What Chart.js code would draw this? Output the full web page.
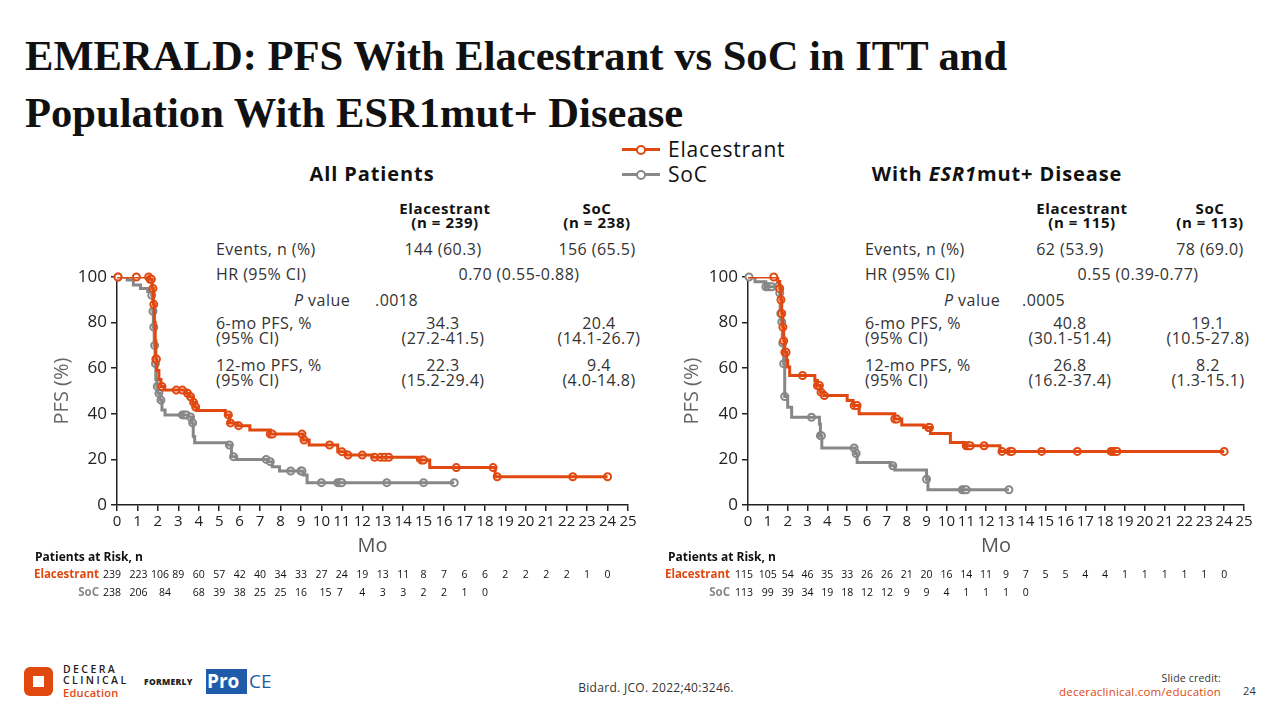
<!DOCTYPE html>
<html>
<head>
<meta charset="utf-8">
<script src="https://cdn.jsdelivr.net/npm/chart.js@4.4.1/dist/chart.umd.min.js"></script>
<style>
  body { margin: 0; width: 1280px; height: 720px; background: #fff; position: relative; overflow: hidden;
         font-family: "Open Sans", sans-serif; color: #333; }
  .t { position: absolute; white-space: nowrap; font-size: 16px; line-height: 18px; letter-spacing: 0.45px; }
  .c { transform: translateX(-50%); text-align: center; }
  .h { font-weight: 700; color: #111; font-size: 15px; line-height: 14px; text-align: center; letter-spacing: 0.6px; }
  .title { position: absolute; left: 25px; top: 27px; font-family: "Liberation Serif", serif; font-weight: 700;
           font-size: 42.6px; line-height: 57px; color: #111; }
  .sub { position: absolute; font-weight: 700; font-size: 20px; color: #111; transform: translateX(-50%);
         white-space: nowrap; letter-spacing: 0.9px; }
  .box { position: absolute; }
</style>
</head>
<body>
<div class="title">EMERALD: PFS With Elacestrant vs SoC in ITT and<br>Population With ESR1mut+ Disease</div>

<!-- legend -->
<div class="box" style="left:622px;top:148px;width:38px;height:3px;background:#E0480F"></div>
<div class="box" style="left:636px;top:145px;width:6px;height:6px;border:2px solid #E0480F;border-radius:50%;background:#fff"></div>
<div class="t" style="left:668px;top:136px;font-size:21px;line-height:26px;letter-spacing:0.8px;color:#111">Elacestrant</div>
<div class="box" style="left:622px;top:173px;width:38px;height:3px;background:#888"></div>
<div class="box" style="left:636px;top:170px;width:6px;height:6px;border:2px solid #888;border-radius:50%;background:#fff"></div>
<div class="t" style="left:668px;top:161px;font-size:21px;line-height:26px;letter-spacing:0.8px;color:#111">SoC</div>

<div class="sub" style="left:372px;top:160px">All Patients</div>
<div class="sub" style="left:997px;top:160px">With <i>ESR1</i>mut+ Disease</div>

<!-- left table -->
<div class="t h c" style="left:445px;top:201px">Elacestrant<br>(n = 239)</div>
<div class="t h c" style="left:597px;top:201px">SoC<br>(n = 238)</div>
<div class="t" style="left:216px;top:240px">Events, n (%)</div>
<div class="t c" style="left:443px;top:240px">144 (60.3)</div>
<div class="t c" style="left:597px;top:240px">156 (65.5)</div>
<div class="t" style="left:216px;top:265px">HR (95% CI)</div>
<div class="t c" style="left:519px;top:265px">0.70 (0.55-0.88)</div>
<div class="t" style="left:294px;top:291px"><i>P</i> value</div>
<div class="t" style="left:375px;top:291px">.0018</div>
<div class="t" style="left:216px;top:316px;line-height:15px">6-mo PFS, %<br>(95% CI)</div>
<div class="t c" style="left:443px;top:316px;line-height:15px">34.3<br>(27.2-41.5)</div>
<div class="t c" style="left:599px;top:316px;line-height:15px">20.4<br>(14.1-26.7)</div>
<div class="t" style="left:216px;top:358px;line-height:15px">12-mo PFS, %<br>(95% CI)</div>
<div class="t c" style="left:443px;top:358px;line-height:15px">22.3<br>(15.2-29.4)</div>
<div class="t c" style="left:599px;top:358px;line-height:15px">9.4<br>(4.0-14.8)</div>

<!-- right table -->
<div class="t h c" style="left:1082px;top:201px">Elacestrant<br>(n = 115)</div>
<div class="t h c" style="left:1210px;top:201px">SoC<br>(n = 113)</div>
<div class="t" style="left:865px;top:240px">Events, n (%)</div>
<div class="t c" style="left:1070px;top:240px">62 (53.9)</div>
<div class="t c" style="left:1210px;top:240px">78 (69.0)</div>
<div class="t" style="left:865px;top:265px">HR (95% CI)</div>
<div class="t c" style="left:1138px;top:265px">0.55 (0.39-0.77)</div>
<div class="t" style="left:944px;top:291px"><i>P</i> value</div>
<div class="t" style="left:1022px;top:291px">.0005</div>
<div class="t" style="left:865px;top:316px;line-height:15px">6-mo PFS, %<br>(95% CI)</div>
<div class="t c" style="left:1070px;top:316px;line-height:15px">40.8<br>(30.1-51.4)</div>
<div class="t c" style="left:1208px;top:316px;line-height:15px">19.1<br>(10.5-27.8)</div>
<div class="t" style="left:865px;top:358px;line-height:15px">12-mo PFS, %<br>(95% CI)</div>
<div class="t c" style="left:1070px;top:358px;line-height:15px">26.8<br>(16.2-37.4)</div>
<div class="t c" style="left:1208px;top:358px;line-height:15px">8.2<br>(1.3-15.1)</div>

<div class="box" style="left:20px;top:262px;width:620px;height:340px"><canvas id="left"></canvas></div>
<div class="box" style="left:650px;top:262px;width:610px;height:340px"><canvas id="right"></canvas></div>

<!-- footer -->
<div class="box" style="left:24px;top:667px;width:29px;height:29px;background:#E0480F;border-radius:6px"></div>
<div class="box" style="left:33px;top:676px;width:11px;height:11px;background:#fff"></div>
<div class="t" style="left:63px;top:664px;font-size:10.5px;line-height:11px;letter-spacing:2.4px;font-weight:600;color:#222">DECERA<br>CLINICAL</div>
<div class="t" style="left:63px;top:686px;font-size:11px;line-height:13px;letter-spacing:0.3px;font-weight:600;color:#E0480F">Education</div>
<div class="t" style="left:144px;top:677px;font-size:8.5px;line-height:10px;letter-spacing:0.3px;font-weight:800;color:#222">FORMERLY</div>
<div class="box" style="left:206px;top:669px;width:41px;height:25px;background:#1F5BA8"></div>
<div class="t" style="left:207px;top:669px;font-size:19px;line-height:25px;letter-spacing:0;font-weight:700;color:#fff">Pro</div>
<div class="t" style="left:249px;top:669px;font-size:19px;line-height:25px;letter-spacing:0;font-weight:500;color:#1F5BA8">CE</div>
<div class="t c" style="left:656px;top:681px;font-size:12px;line-height:14px;letter-spacing:0.3px">Bidard. JCO. 2022;40:3246.</div>
<div class="t" style="left:1221px;top:672px;font-size:10.5px;line-height:13px;letter-spacing:0.2px;transform:translateX(-100%);color:#333">Slide credit:</div>
<div class="t" style="left:1221px;top:685px;font-size:11.5px;line-height:14px;letter-spacing:0.2px;transform:translateX(-100%);color:#E0480F">deceraclinical.com/education</div>
<div class="t" style="left:1243px;top:684px;font-size:11px;line-height:14px;letter-spacing:0.2px;color:#333">24</div>

<script>
const ORANGE = '#E0480F';
const GRAY = '#878787';

// Kaplan-Meier steps [month, PFS %]
const elacAllSteps = [[0,100],[1.6,99],[1.72,95],[1.78,88],[1.83,80],[1.87,72],[1.9,64],[1.95,59],[2.05,55],[2.15,52],
  [2.3,50.4],[3.4,49],[3.55,47.5],[3.7,45],[3.8,43],[3.9,41.5],[5.3,39.5],[5.5,36],[5.9,34.8],[6.5,32.9],[7.5,31.1],
  [9.1,28.5],[9.4,26.3],[10.8,23.4],[11.2,21.9],[12.5,20.9],[14.7,19.7],[15.3,16.4],[18.5,12.4],[24,12.4]];
const socAllSteps = [[0,100],[0.5,98.7],[0.8,96.5],[1.15,95],[1.5,93.6],[1.7,92],[1.75,85],[1.78,78],[1.82,70],[1.86,62],
  [1.9,55],[1.95,52],[2.0,49],[2.1,46],[2.2,41.7],[2.35,39.5],[3.5,38.6],[3.65,36],[3.73,30],[3.8,27.3],[5.38,26.3],
  [5.6,21.2],[5.85,20],[7.4,19],[7.6,16.8],[7.95,14.9],[9.1,13.2],[9.3,9.8],[16.5,9.8]];
const elacMutSteps = [[0,100],[1.5,98],[1.6,95],[1.65,90],[1.7,84],[1.75,78],[1.8,72],[1.85,67],[1.95,63.4],[2.0,60.5],
  [2.1,56.8],[3.37,54.6],[3.5,52.4],[3.65,49.5],[3.82,48],[5.0,45.8],[5.3,43.6],[5.6,40],[7.4,37.7],[7.75,35.1],
  [8.85,34],[9.2,31.4],[10.2,27.4],[10.9,26],[12.7,23.5],[24,23.5]];
const socMutSteps = [[0,100],[0.35,97.9],[0.9,95.7],[1.6,93],[1.62,84],[1.68,80.3],[1.73,71],[1.8,62],[1.85,47.6],
  [2.0,42.9],[2.2,38.5],[3.6,35.5],[3.65,30.4],[3.72,25],[5.4,22.6],[5.5,18.6],[7.2,17.2],[7.4,15.3],[9.0,11.3],
  [9.07,6.7],[13.15,6.7]];

// censoring times (months)
const elacAllCens = [0.05,0.95,1.55,1.62,1.68,1.76,1.8,1.9,1.93,2.2,2.9,3.2,3.45,3.6,3.75,3.85,5.45,5.55,5.95,7.5,7.6,
  9.05,9.15,10.4,11.0,11.3,12.0,12.6,12.9,13.1,13.3,14.9,15.0,16.6,18.4,18.6,22.3,24];
const socAllCens = [0.05,1.7,1.76,1.8,1.84,1.88,1.97,2.05,2.15,3.2,3.3,3.4,3.6,3.7,5.5,5.7,7.3,7.5,8.5,9.0,9.05,
  10.0,10.8,10.9,11.0,13.2,15.0,16.5];
const elacMutCens = [1.3,1.6,1.66,1.7,1.76,1.8,1.86,1.92,2.75,3.5,3.6,3.68,3.85,5.35,5.5,7.4,7.5,9.1,9.15,11.0,11.1,
  11.2,11.9,12.8,13.2,13.3,14.8,16.6,18.3,18.4,18.5,18.6,24];
const socMutCens = [0.05,0.9,1.0,1.1,1.2,1.5,1.6,1.65,1.7,1.75,1.8,1.85,3.2,3.65,3.7,5.35,5.45,7.3,9.0,10.8,10.9,11.0,13.15];

// patients at risk
const elacAllRisk = [239,223,106,89,60,57,42,40,34,33,27,24,19,13,11,8,7,6,6,2,2,2,2,1,0];
const elacAllRiskMo = [-0.25,1.05,2.1,3,4,5,6,7,8,9,10,11,12,13,14,15,16,17,18,19,20,21,22,23,24];
const socAllRisk = [238,206,84,68,39,38,25,25,16,15,7,4,3,3,2,2,1,0];
const socAllRiskMo = [-0.25,1.05,2.35,4,5,6,7,8,9,10.2,10.9,12,13,14,15,16,17,18];
const elacMutRisk = [115,105,54,46,35,33,26,26,21,20,16,14,11,9,7,5,5,4,4,1,1,1,1,1,0];
const elacMutRiskMo = [-0.2,1,2,3,4,5,6,7,8,9,10,11,12,13,14,15,16,17,18,19,20,21,22,23,24];
const socMutRisk = [113,99,39,34,19,18,12,12,9,9,4,1,1,1,0];
const socMutRiskMo = [-0.2,1,2,3,4,5,6,7,8,9,10,11,12,13,14];

const FONT = '"Open Sans", sans-serif';

function toPts(steps) { return steps.map(([x, y]) => ({ x, y })); }
function censPts(times, steps) {
  return times.map(t => {
    let y = steps[0][1];
    for (const [x, v] of steps) if (x <= t) y = v;
    return { x: t, y };
  });
}

function atRiskPlugin(rows, labelX, headerX) {
  return {
    id: 'atRisk',
    afterDraw(chart) {
      const ctx = chart.ctx;
      const xs = chart.scales.x;
      ctx.save();
      ctx.textBaseline = 'middle';
      ctx.font = `bold 12px ${FONT}`;
      ctx.fillStyle = '#111';
      ctx.textAlign = 'left';
      ctx.fillText('Patients at Risk, n', headerX, 296);
      rows.forEach(r => {
        ctx.font = `bold 11.5px ${FONT}`;
        ctx.fillStyle = r.color;
        ctx.textAlign = 'right';
        ctx.fillText(r.label, labelX, r.y);
        ctx.font = `10.5px ${FONT}`;
        ctx.fillStyle = '#111';
        ctx.textAlign = 'center';
        r.values.forEach((v, i) => ctx.fillText(String(v), xs.getPixelForValue(r.months[i]), r.y));
      });
      ctx.restore();
    }
  };
}

function kmChart(id, elacSteps, socSteps, elacCens, socCens, risk, yWidth, padRight, labelX, headerX) {
  const axisCommon = {
    grid: { drawOnChartArea: false, drawTicks: true, tickLength: 6, color: '#222', lineWidth: 1.5 },
    border: { color: '#222', width: 1.5 }
  };
  new Chart(document.getElementById(id), {
    type: 'scatter',
    data: {
      datasets: [
        { type: 'line', data: toPts(elacSteps), stepped: 'before', borderColor: ORANGE, borderWidth: 3,
          pointRadius: 0, fill: false },
        { data: censPts(elacCens, elacSteps), pointRadius: 3.5, pointBackgroundColor: '#fff',
          pointBorderColor: ORANGE, pointBorderWidth: 2, clip: false },
        { type: 'line', data: toPts(socSteps), stepped: 'before', borderColor: GRAY, borderWidth: 3,
          pointRadius: 0, fill: false },
        { data: censPts(socCens, socSteps), pointRadius: 3.5, pointBackgroundColor: '#fff',
          pointBorderColor: GRAY, pointBorderWidth: 2, clip: false }
      ]
    },
    options: {
      responsive: true,
      maintainAspectRatio: false,
      animation: false,
      layout: { padding: { left: 30, right: padRight, top: 15, bottom: 40 } },
      plugins: { legend: { display: false }, tooltip: { enabled: false } },
      scales: {
        x: {
          type: 'linear', min: 0, max: 25,
          ticks: { stepSize: 1, autoSkip: false, maxRotation: 0, color: '#222', padding: 2,
                   font: { family: FONT, size: 15 } },
          title: { display: true, text: 'Mo', color: '#555', font: { family: FONT, size: 20 }, padding: { top: 0 } },
          afterFit(s) { s.height = 57; },
          ...axisCommon
        },
        y: {
          min: 0, max: 100,
          ticks: { stepSize: 20, color: '#222', padding: 4, font: { family: FONT, size: 17 } },
          title: { display: true, text: 'PFS (%)', color: '#666', font: { family: FONT, size: 20 }, padding: 0 },
          afterFit(s) { s.width = yWidth; },
          ...axisCommon
        }
      }
    },
    plugins: [atRiskPlugin(risk, labelX, headerX)]
  });
}

kmChart('left', elacAllSteps, socAllSteps, elacAllCens, socAllCens, [
  { label: 'Elacestrant', color: ORANGE, y: 313, values: elacAllRisk, months: elacAllRiskMo },
  { label: 'SoC', color: '#888', y: 331, values: socAllRisk, months: socAllRiskMo }
], 67, 12, 79, 15);

kmChart('right', elacMutSteps, socMutSteps, elacMutCens, socMutCens, [
  { label: 'Elacestrant', color: ORANGE, y: 313, values: elacMutRisk, months: elacMutRiskMo },
  { label: 'SoC', color: '#888', y: 331, values: socMutRisk, months: socMutRiskMo }
], 68, 16, 80, 18);
</script>
</body>
</html>
